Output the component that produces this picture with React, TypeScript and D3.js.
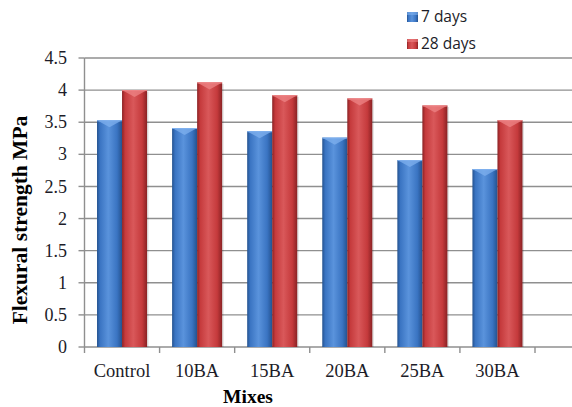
import React from "react";
import * as d3 from "d3";

// Flexural strength (MPa) of each mix at 7 and 28 days
const mixes = ["Control", "10BA", "15BA", "20BA", "25BA", "30BA"];
const series = ["7 days", "28 days"];
const days7 = [3.53, 3.41, 3.36, 3.26, 2.91, 2.77];
const days28 = [4.0, 4.12, 3.92, 3.87, 3.76, 3.53];
const yTicks = [0, 0.5, 1, 1.5, 2, 2.5, 3, 3.5, 4, 4.5];

const W = 572;
const H = 407;
const plot = { left: 84.5, right: 535, top: 58, bottom: 347 };

const palette = {
  "7 days": { dark: "#24528f", mid: "#3a74c2", light: "#5a93dc", top: "#7fb0ee" },
  "28 days": { dark: "#8a2224", mid: "#c53a3c", light: "#d9585a", top: "#ee8486" },
} as Record<string, { dark: string; mid: string; light: string; top: string }>;

const serif = "'Liberation Serif', 'Times New Roman', serif";
const sans = "'Open Sans', 'Noto Sans', sans-serif";

export default function App() {
  const x = d3.scaleBand<string>().domain(mixes).range([plot.left, plot.right]).padding(0);
  const xs = d3
    .scaleBand<string>()
    .domain(series)
    .range([0, x.bandwidth()])
    .paddingInner(0)
    .paddingOuter(0.5);
  const y = d3.scaleLinear().domain([0, 4.5]).range([plot.bottom, plot.top]);

  const values: Record<string, number[]> = { "7 days": days7, "28 days": days28 };
  const gridColor = "#8f8f8f";
  const textColor = "#1c1c28";
  const boundaries = [...mixes.map((m) => x(m)!), plot.right];

  return (
    <div style={{ position: "absolute", left: 0, top: 0 }}>
      <svg width={W} height={H} style={{ display: "block", background: "#fff" }}>
        <defs>
          {series.map((s, i) => (
            <linearGradient key={s} id={`bar-grad-${i}`} x1="0" x2="1" y1="0" y2="0">
              <stop offset="0%" stopColor={palette[s].dark} />
              <stop offset="12%" stopColor={palette[s].mid} />
              <stop offset="45%" stopColor={palette[s].light} />
              <stop offset="80%" stopColor={palette[s].mid} />
              <stop offset="100%" stopColor={palette[s].dark} />
            </linearGradient>
          ))}
        </defs>

        {/* horizontal gridlines */}
        {yTicks.map((t) => (
          <line
            key={`g${t}`}
            x1={plot.left}
            x2={W}
            y1={y(t)}
            y2={y(t)}
            stroke={gridColor}
            strokeWidth={1.4}
          />
        ))}

        {/* y axis */}
        <line x1={plot.left} x2={plot.left} y1={plot.top} y2={plot.bottom} stroke={gridColor} strokeWidth={1.4} />
        {yTicks.map((t) => (
          <g key={`yt${t}`}>
            <line x1={plot.left - 6} x2={plot.left} y1={y(t)} y2={y(t)} stroke={gridColor} strokeWidth={1.4} />
            <text
              x={67}
              y={y(t)}
              dy="0.34em"
              textAnchor="end"
              fontFamily={serif}
              fontSize={18}
              fill={textColor}
            >
              {String(t)}
            </text>
          </g>
        ))}

        {/* x axis ticks at category boundaries */}
        {boundaries.map((bx, i) => (
          <line
            key={`xt${i}`}
            x1={bx}
            x2={bx}
            y1={plot.bottom}
            y2={plot.bottom + 6}
            stroke={gridColor}
            strokeWidth={1.4}
          />
        ))}

        {/* bars */}
        {mixes.map((m, mi) =>
          series.map((s, si) => {
            const v = values[s][mi];
            const bx = x(m)! + xs(s)!;
            const bw = xs.bandwidth();
            const top = y(v);
            const h = plot.bottom - top;
            const bevel = 7;
            return (
              <g key={`${m}-${s}`}>
                <rect x={bx + 1.5} y={top + 1.5} width={bw} height={h - 1.5} fill="#000" opacity={0.12} />
                <rect x={bx} y={top} width={bw} height={h} fill={`url(#bar-grad-${si})`} />
                <polygon
                  points={`${bx},${top} ${bx + bw},${top} ${bx + bw / 2},${top + bevel}`}
                  fill={palette[s].top}
                  opacity={0.75}
                />
                <line x1={bx} x2={bx + bw} y1={top + 0.5} y2={top + 0.5} stroke={palette[s].top} strokeWidth={1} />
              </g>
            );
          })
        )}

        {/* category labels */}
        {mixes.map((m) => (
          <text
            key={`xl${m}`}
            x={x(m)! + x.bandwidth() / 2}
            y={377}
            textAnchor="middle"
            fontFamily={serif}
            fontSize={18.5}
            fill={textColor}
          >
            {m}
          </text>
        ))}

        {/* axis titles */}
        <text x={248} y={403} textAnchor="middle" fontFamily={serif} fontWeight="bold" fontSize={19.5} fill="#000">
          Mixes
        </text>
        <text
          transform={`translate(27, 220) rotate(-90)`}
          textAnchor="middle"
          fontFamily={serif}
          fontWeight="bold"
          fontSize={21.5}
          fill="#000"
        >
          Flexural strength MPa
        </text>

        {/* legend */}
        {series.map((s, i) => {
          const ly = 22 + i * 27;
          return (
            <g key={`lg${s}`}>
              <rect x={407} y={ly - 10} width={11} height={10} fill={`url(#bar-grad-${i})`} />
              <rect x={407} y={ly - 10} width={11} height={3} fill={palette[s].top} opacity={0.6} />
              <text x={421} y={ly} fontFamily={sans} fontSize={15.5} fill={textColor}>
                {s}
              </text>
            </g>
          );
        })}
      </svg>
    </div>
  );
}
